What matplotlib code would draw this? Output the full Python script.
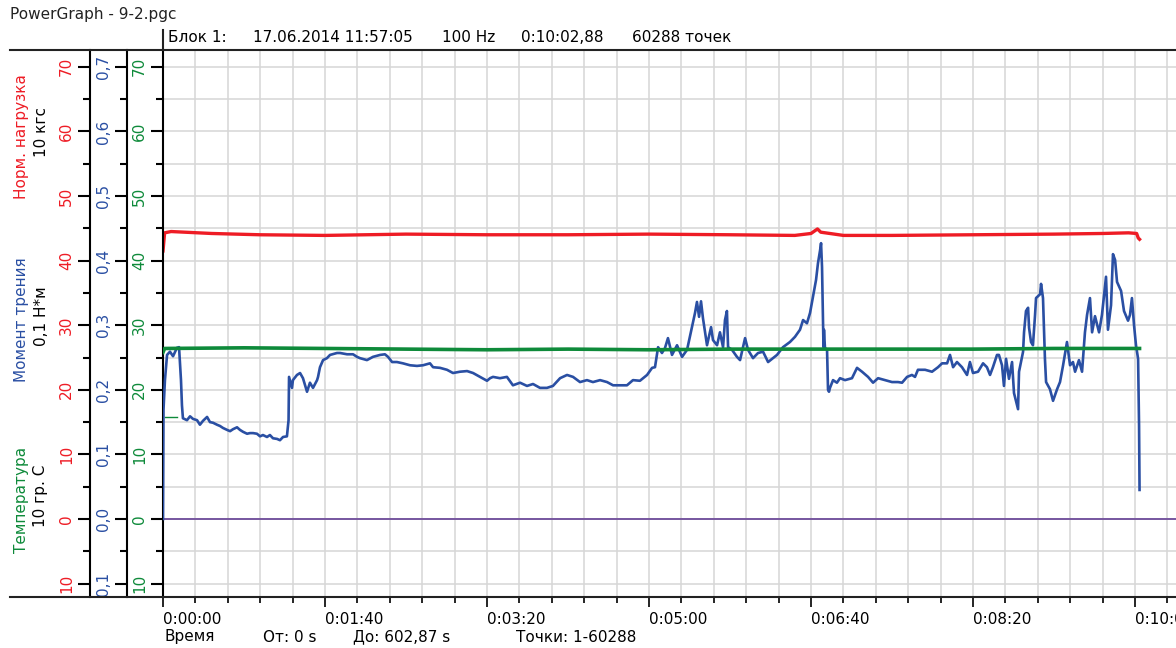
import matplotlib.pyplot as plt
from matplotlib.ticker import MultipleLocator
from matplotlib.lines import Line2D

plt.rcParams['font.family'] = ['DejaVu Sans']

# --- данные (время, с) ---
# момент трения, Н*м
blue_t = [0, 0.3, 1.2, 2.5, 4.3, 6.2, 8.6, 9.9, 11.1, 11.7, 12.3, 14.8, 16.7, 18.5, 21.0, 22.8,
          24.7, 27.2, 29.0, 30.9, 33.3, 35.2, 37.0, 39.5, 41.4, 43.2, 45.7, 47.5, 49.4, 51.9,
          53.7, 55.6, 58.0, 59.9, 61.7, 64.2, 66.0, 67.9, 70.4, 72.2, 74.1, 76.5, 77.5, 77.8,
          79.6, 80.2, 82.7, 84.6, 86.4, 88.9, 90.7, 92.6, 95.1, 95.7, 96.9, 98.8, 101.2, 103.1,
          107.4, 109.3, 113.6, 117.3, 119.8, 121.6, 125.9, 129.6, 134.0, 137.0, 138.9, 141.4,
          144.4, 148.1, 152.5, 156.8, 160.5, 164.8, 166.7, 171.0, 175.3, 179.0, 183.3, 187.7,
          191.4, 195.7, 200.0, 201.9, 203.7, 208.0, 212.3, 216.0, 220.4, 224.7, 228.4, 232.7,
          237.0, 240.7, 245.1, 249.4, 253.1, 257.4, 261.7, 265.4, 269.8, 274.1, 277.8, 282.1,
          286.4, 290.1, 294.4, 298.8, 301.9, 303.7, 305.6, 308.0, 309.9, 311.7, 314.2, 317.3,
          320.4, 323.5, 326.5, 328.4, 329.6, 330.9, 332.1, 333.3, 335.8, 338.3, 339.5, 342.0,
          343.8, 345.7, 346.9, 348.1, 348.8, 351.2, 354.3, 356.2, 359.3, 361.1, 364.2, 367.3,
          370.4, 373.5, 376.5, 379.0, 382.7, 387.0, 390.1, 393.2, 395.1, 397.5, 399.4, 401.2,
          403.1, 404.3, 405.6, 406.2, 406.8, 407.4, 407.7, 408.0, 408.6, 409.9, 410.5, 411.1,
          411.7, 413.6, 416.0, 417.9, 421.0, 425.3, 428.4, 431.5, 435.2, 438.3, 441.4, 445.7,
          450.0, 453.7, 456.2, 459.3, 462.3, 464.2, 466.0, 470.4, 474.7, 478.4, 480.9, 484.0,
          485.8, 487.7, 490.1, 493.2, 496.3, 498.1, 500.0, 503.1, 506.2, 508.6, 510.5, 512.3,
          514.8, 516.0, 517.9, 519.1, 520.4, 522.2, 524.1, 525.3, 527.8, 528.4, 530.9, 531.5,
          532.7, 534.0, 534.6, 535.8, 537.0, 538.3, 538.9, 541.4, 542.0, 543.2, 544.4, 545.1,
          547.5, 549.4, 551.9, 553.7, 555.6, 558.0, 559.9, 561.7, 563.0, 565.4, 567.3, 569.1,
          570.4, 572.2, 573.5, 575.3, 577.8, 579.6, 582.1, 583.3, 585.2, 586.4, 587.7, 588.9,
          591.4, 593.2, 595.7, 596.9, 598.1, 599.4, 600.6, 601.9, 602.5, 602.8]
blue_v = [0.0, 0.169, 0.215, 0.254, 0.259, 0.252, 0.265, 0.266, 0.215, 0.176, 0.156, 0.153, 0.159,
          0.155, 0.153, 0.146, 0.152, 0.158, 0.150, 0.149, 0.146, 0.144, 0.141, 0.138, 0.136,
          0.139, 0.142, 0.138, 0.135, 0.132, 0.133, 0.133, 0.132, 0.128, 0.130, 0.127, 0.130,
          0.125, 0.124, 0.122, 0.127, 0.128, 0.153, 0.220, 0.203, 0.215, 0.223, 0.226, 0.218,
          0.197, 0.211, 0.203, 0.215, 0.220, 0.235, 0.246, 0.249, 0.254, 0.257, 0.257, 0.255,
          0.255, 0.251, 0.249, 0.246, 0.251, 0.254, 0.255, 0.251, 0.243, 0.243, 0.241, 0.238,
          0.237, 0.238, 0.241, 0.235, 0.234, 0.231, 0.226, 0.228, 0.229, 0.226, 0.220, 0.214,
          0.218, 0.220, 0.218, 0.220, 0.207, 0.211, 0.206, 0.209, 0.203, 0.203, 0.206, 0.218,
          0.223, 0.220, 0.212, 0.215, 0.212, 0.215, 0.212, 0.207, 0.207, 0.207, 0.215, 0.214,
          0.223, 0.234, 0.235, 0.266, 0.257, 0.265, 0.280, 0.254, 0.269, 0.251, 0.262, 0.297,
          0.319, 0.336, 0.313, 0.337, 0.311, 0.269, 0.297, 0.277, 0.269, 0.289, 0.266, 0.308,
          0.322, 0.266, 0.262, 0.251, 0.246, 0.280, 0.262, 0.249, 0.257, 0.259, 0.243, 0.249,
          0.254, 0.266, 0.274, 0.282, 0.293, 0.308, 0.303, 0.319, 0.344, 0.370, 0.396, 0.416,
          0.427, 0.390, 0.308, 0.266, 0.293, 0.265, 0.262, 0.200, 0.197, 0.203, 0.215, 0.211,
          0.218, 0.215, 0.218, 0.234, 0.228, 0.220, 0.211, 0.218, 0.215, 0.212, 0.212, 0.211,
          0.220, 0.223, 0.220, 0.231, 0.231, 0.228, 0.235, 0.241, 0.241, 0.254, 0.235, 0.243,
          0.235, 0.223, 0.243, 0.226, 0.228, 0.241, 0.235, 0.223, 0.235, 0.254, 0.254, 0.238,
          0.206, 0.248, 0.217, 0.243, 0.195, 0.170, 0.228, 0.259, 0.289, 0.322, 0.327, 0.296,
          0.274, 0.269, 0.316, 0.342, 0.348, 0.364, 0.342, 0.248, 0.212, 0.201, 0.183, 0.201,
          0.212, 0.238, 0.274, 0.238, 0.243, 0.228, 0.246, 0.228, 0.289, 0.316, 0.342, 0.289,
          0.314, 0.289, 0.316, 0.375, 0.293, 0.331, 0.410, 0.401, 0.367, 0.353, 0.322, 0.307,
          0.316, 0.342, 0.300, 0.269, 0.248, 0.144, 0.045]

# нормальная нагрузка, 10 кгс
red_t = [0, 1, 5, 30, 60, 100, 150, 200, 250, 300, 350, 390, 400, 404, 406, 420, 450, 500,
         550, 580, 596, 601, 602, 602.8]
red_v = [41.5, 44.3, 44.5, 44.2, 44.0, 43.9, 44.1, 44.0, 44.0, 44.1, 44.0, 43.9, 44.2, 44.9,
         44.4, 43.9, 43.9, 44.0, 44.1, 44.2, 44.3, 44.2, 43.5, 43.3]

# температура, 10 гр. С
green_t = [0, 1, 50, 100, 150, 200, 250, 300, 350, 400, 450, 500, 550, 600, 602.8]
green_v = [25.8, 26.4, 26.5, 26.4, 26.3, 26.2, 26.3, 26.2, 26.3, 26.3, 26.3, 26.3, 26.4, 26.4, 26.4]
green_mark_t = [1.2, 8.6]
green_mark_v = [15.8, 15.8]

zero_level = 0.0

x_ticks = [0, 100, 200, 300, 400, 500, 600]
x_labels = ['0:00:00', '0:01:40', '0:03:20', '0:05:00', '0:06:40', '0:08:20', '0:10:00']
y_ticks = [-10, 0, 10, 20, 30, 40, 50, 60, 70]
y_labels = ['10', '0', '10', '20', '30', '40', '50', '60', '70']
b_ticks = [-0.1, 0.0, 0.1, 0.2, 0.3, 0.4, 0.5, 0.6, 0.7]
b_labels = ['0,1', '0,0', '0,1', '0,2', '0,3', '0,4', '0,5', '0,6', '0,7']

RED = '#ee1c25'
BLUE = '#2a4fa3'
GREEN = '#0e8a3a'
PURPLE = '#6f4c9b'

W, H = 1176, 648
fig = plt.figure(figsize=(W / 100, H / 100), dpi=100)


def fx(px):
    return px / W


def fy(py):
    return 1 - py / H


ax = fig.add_axes([fx(163), fy(597), fx(1176) - fx(163), fy(50) - fy(597)])
ylo, yhi = -12.07, 72.6
ax.set_xlim(0, 625.3)
ax.set_ylim(ylo, yhi)

# сетка
ax.xaxis.set_minor_locator(MultipleLocator(20))
ax.yaxis.set_minor_locator(MultipleLocator(5))
ax.grid(which='both', color='#d6d6d6', lw=1.1)
ax.set_axisbelow(True)
for s in ['top', 'right', 'bottom']:
    ax.spines[s].set_visible(False)
ax.spines['left'].set_linewidth(1.5)

ax.set_xticks(x_ticks, x_labels, ha='left')
ax.tick_params(axis='x', which='major', length=7, width=1.2, pad=4, labelsize=11)
ax.tick_params(axis='x', which='minor', length=4.5, width=1.2)

ax.set_yticks(y_ticks, y_labels)
ax.tick_params(axis='y', which='major', length=8.5, width=1.5, pad=3, labelsize=11,
               labelcolor=GREEN, labelrotation=90)
ax.tick_params(axis='y', which='minor', length=5, width=1.5)
plt.setp(ax.get_yticklabels(), va='center')

# линии
ax.axhline(zero_level, color=PURPLE, lw=1.3)
ax.plot(red_t, red_v, color=RED, lw=2.4)
ax.plot(green_mark_t, green_mark_v, color=GREEN, lw=1)

# ось момента трения (синяя)
ax_b = ax.twinx()
ax_b.set_ylim(ylo / 100, yhi / 100)
ax_b.plot(blue_t, blue_v, color=BLUE, lw=1.9)
for s in ['top', 'right', 'bottom']:
    ax_b.spines[s].set_visible(False)
ax_b.spines['left'].set_position(('outward', 36 * 0.72))
ax_b.spines['left'].set_linewidth(1.5)
ax_b.yaxis.set_ticks_position('left')
ax_b.set_yticks(b_ticks, b_labels)
ax_b.yaxis.set_minor_locator(MultipleLocator(0.05))
ax_b.tick_params(axis='y', which='major', length=8.5, width=1.5, pad=3, labelsize=11,
                 labelcolor=BLUE, labelrotation=90)
ax_b.tick_params(axis='y', which='minor', length=5, width=1.5)
plt.setp(ax_b.get_yticklabels(), va='center')

# ось нагрузки (красная)
ax_r = ax.twinx()
ax_r.set_ylim(ylo, yhi)
for s in ['top', 'right', 'bottom']:
    ax_r.spines[s].set_visible(False)
ax_r.spines['left'].set_position(('outward', 73 * 0.72))
ax_r.spines['left'].set_linewidth(1.5)
ax_r.yaxis.set_ticks_position('left')
ax_r.set_yticks(y_ticks, y_labels)
ax_r.yaxis.set_minor_locator(MultipleLocator(5))
ax_r.tick_params(axis='y', which='major', length=8.5, width=1.5, pad=3, labelsize=11,
                 labelcolor=RED, labelrotation=90)
ax_r.tick_params(axis='y', which='minor', length=5, width=1.5)
plt.setp(ax_r.get_yticklabels(), va='center')

# температура поверх остальных
ax_g = ax.twinx()
ax_g.set_ylim(ylo, yhi)
ax_g.axis('off')
ax_g.plot(green_t, green_v, color=GREEN, lw=2.6)

# рамки
fig.add_artist(Line2D([fx(10), 1], [fy(50), fy(50)], color='#222222', lw=1.5))
fig.add_artist(Line2D([fx(10), 1], [fy(597), fy(597)], color='#222222', lw=1.5))
fig.add_artist(Line2D([fx(163), fx(163)], [fy(30), fy(50)], color='#222222', lw=1.5))

# тексты
fig.text(fx(10), fy(15), 'PowerGraph - 9-2.pgc', fontsize=11, va='center', color='#222222')
hy = fy(38)
fig.text(fx(168), hy, 'Блок 1:', fontsize=11, va='center')
fig.text(fx(253), hy, '17.06.2014 11:57:05', fontsize=11, va='center')
fig.text(fx(442), hy, '100 Hz', fontsize=11, va='center')
fig.text(fx(521), hy, '0:10:02,88', fontsize=11, va='center')
fig.text(fx(632), hy, '60288 точек', fontsize=11, va='center')

by = fy(637)
fig.text(fx(165), by, 'Время', fontsize=11, va='center')
fig.text(fx(263), by, 'От: 0 s', fontsize=11, va='center')
fig.text(fx(353), by, 'До: 602,87 s', fontsize=11, va='center')
fig.text(fx(516), by, 'Точки: 1-60288', fontsize=11, va='center')

fig.text(fx(22), fy(137), 'Норм. нагрузка', color=RED, fontsize=11, rotation=90, ha='center', va='center')
fig.text(fx(41), fy(132), '10 кгс', color='black', fontsize=11, rotation=90, ha='center', va='center')
fig.text(fx(22), fy(320), 'Момент трения', color=BLUE, fontsize=11, rotation=90, ha='center', va='center')
fig.text(fx(41), fy(316), '0,1 Н*м', color='black', fontsize=11, rotation=90, ha='center', va='center')
fig.text(fx(22), fy(500), 'Температура', color=GREEN, fontsize=11, rotation=90, ha='center', va='center')
fig.text(fx(41), fy(496), '10 гр. С', color='black', fontsize=11, rotation=90, ha='center', va='center')

fig.savefig('out.png', dpi=100)
